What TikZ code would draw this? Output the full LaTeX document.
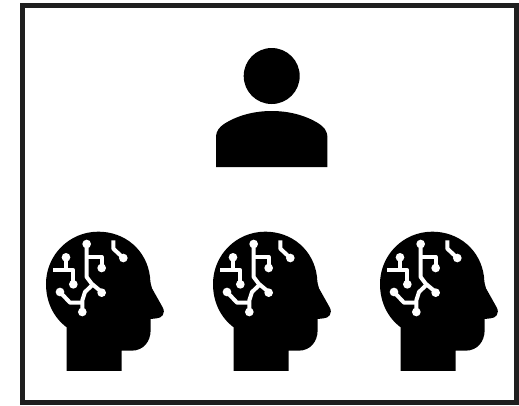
\documentclass[tikz,border=0pt]{standalone}
\tikzset{
  frameline/.style={draw=black!88,line width=5pt},
  trace/.style={draw=white,line width=4pt,line join=round},
  pad/.style={fill=white},
  shape fill/.style={fill=black}
}
\newcommand{\headicon}[1]{%
\begin{scope}[shift={(#1,220)},x=0.3333pt,y=-0.3333pt]
  \fill[shape fill] (110,453) -- (110,322)
    .. controls (70,292) and (48,245) .. (48,192)
    .. controls (48,105) and (118,35) .. (205,35)
    .. controls (285,35) and (350,90) .. (360,170)
    .. controls (361,185) and (362,195) .. (366,205)
    -- (398,262)
    .. controls (408,280) and (395,295) .. (380,295)
    -- (362,297) -- (362,330)
    .. controls (362,365) and (340,392) .. (305,392)
    -- (275,392) -- (275,453) -- cycle;
  \draw[trace] (170,72) -- (170,171) -- (185,191) -- (215,216);
  \draw[trace] (157,276) -- (157,241) -- (165,216) -- (185,197);
  \draw[trace] (170,111) -- (215,111) -- (215,144);
  \draw[trace] (108,112) -- (108,151);
  \draw[trace] (70,151) -- (130,151) -- (130,193);
  \draw[trace] (90,216) -- (120,248) -- (157,248);
  \draw[trace] (250,61) -- (250,86) -- (280,114);
  \foreach \p in {(170,72),(215,218),(157,276),(215,144),(108,112),(130,193),(90,216),(280,114)}
    \fill[pad] \p circle (13);
\end{scope}}
\begin{document}
\begin{tikzpicture}[x=1pt,y=-1pt]
  \useasboundingbox (0,0) rectangle (519,405);
  \fill[white] (0,0) rectangle (519,405);
  \draw[frameline] (22.5,5.5) rectangle (516.5,402.5);
  \fill[shape fill] (271.7,76) circle (28);
  \fill[shape fill] (216,167) -- (216,138)
    .. controls (216,130) and (220,127) .. (224,124)
    .. controls (238,115) and (255,111) .. (271.7,111)
    .. controls (288.4,111) and (305.4,115) .. (319.4,124)
    .. controls (323.4,127) and (327.4,130) .. (327.4,138)
    -- (327.4,167) -- cycle;
  \headicon{30}
  \headicon{197}
  \headicon{364}
\end{tikzpicture}
\end{document}
